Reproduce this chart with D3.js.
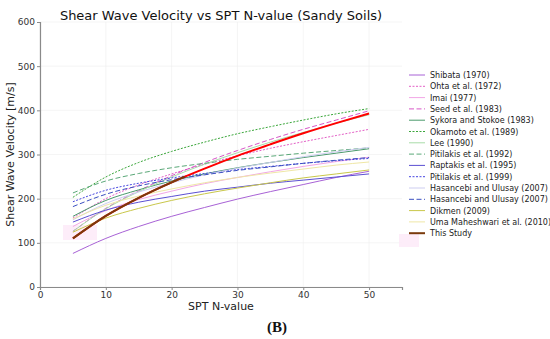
<!DOCTYPE html>
<html>
<head>
<meta charset="utf-8">
<script src="https://d3js.org/d3.v7.min.js"></script>
<style>
  body { margin: 0; background: #fff; }
  text { font-family: "DejaVu Sans", sans-serif; }
</style>
</head>
<body>
<div id="chart"></div>
<script>
// SPT N sample points
var nValues = [5, 10, 15, 20, 25, 30, 35, 40, 45, 50];

var shibata   = [76, 110, 137, 160, 180, 199, 216, 232, 248, 262];
var ohta      = [156, 200, 231, 256, 278, 297, 314, 329, 343, 357];
var imai      = [137, 173, 198, 217, 234, 248, 261, 273, 284, 294];
var seed      = [126, 178, 218, 252, 282, 309, 334, 357, 378, 399];
var sykora    = [160, 196, 220, 240, 256, 270, 282, 293, 303, 313];
var okamoto   = [203, 249, 282, 307, 328, 347, 363, 378, 392, 404];
var lee       = [126, 177, 216, 249, 278, 304, 328, 350, 371, 390];
var pitil92   = [213, 240, 257, 270, 280, 289, 296, 303, 309, 315];
var raptakis  = [147, 174, 192, 205, 217, 226, 235, 242, 249, 256];
var pitil99   = [193, 219, 235, 247, 257, 266, 273, 280, 286, 291];
var hasan1    = [152, 189, 215, 236, 254, 269, 282, 295, 306, 316];
var hasan2    = [182, 210, 229, 243, 254, 264, 272, 280, 287, 293];
var dikmen    = [124, 156, 178, 196, 211, 224, 236, 247, 256, 265];
var uma       = [154, 185, 206, 222, 236, 248, 258, 267, 276, 283];
var studyRed  = [110, 161, 202, 237, 268, 297, 323, 348, 371, 393];

// brown part of this study
var studyN = [5, 10, 15, 20, 22];
var studyV = [110, 161, 202, 237, 250];

var xTicks = [0, 10, 20, 30, 40, 50];
var yTicks = [0, 100, 200, 300, 400, 500, 600];

var series = [
  {name: "Shibata (1970)", v: shibata, color: "#a862d6", dash: null},
  {name: "Ohta et al. (1972)", v: ohta, color: "#e35fc6", dash: "2,1.5"},
  {name: "Imai (1977)", v: imai, color: "#f2a6e6", dash: null},
  {name: "Seed et al. (1983)", v: seed, color: "#d757c8", dash: "5,2.5"},
  {name: "Sykora and Stokoe (1983)", v: sykora, color: "#4a9a6c", dash: null},
  {name: "Okamoto et al. (1989)", v: okamoto, color: "#3aa63a", dash: "2,1.5"},
  {name: "Lee (1990)", v: lee, color: "#a9dca9", dash: null},
  {name: "Pitilakis et al. (1992)", v: pitil92, color: "#5aa878", dash: "5,2.5"},
  {name: "Raptakis et al. (1995)", v: raptakis, color: "#5b4fd2", dash: null},
  {name: "Pitilakis et al. (1999)", v: pitil99, color: "#4646e0", dash: "2,1.5"},
  {name: "Hasancebi and Ulusay (2007)", v: hasan1, color: "#cdcdf0", dash: null},
  {name: "Hasancebi and Ulusay (2007)", v: hasan2, color: "#3b4fc0", dash: "5,2.5"},
  {name: "Dikmen (2009)", v: dikmen, color: "#c9c74a", dash: null},
  {name: "Uma Maheshwari et al. (2010)", v: uma, color: "#efe7a6", dash: null}
];

var width = 550, height = 339;
var margin = {left: 40, right: 148, top: 22, bottom: 52};

var svg = d3.select("#chart").append("svg")
  .attr("width", width)
  .attr("height", height);

var x = d3.scaleLinear().domain([0, 55]).range([margin.left, width - margin.right]);
var y = d3.scaleLinear().domain([0, 600]).range([height - margin.bottom, margin.top]);

// grid
var grid = svg.append("g");
grid.selectAll(".gx").data(xTicks).enter().append("line")
  .attr("x1", d => x(d)).attr("x2", d => x(d))
  .attr("y1", y(0)).attr("y2", y(600))
  .attr("stroke", "#eeeeee").attr("stroke-width", 0.6);
grid.selectAll(".gy").data(yTicks).enter().append("line")
  .attr("x1", x(0)).attr("x2", x(55))
  .attr("y1", d => y(d)).attr("y2", d => y(d))
  .attr("stroke", "#eeeeee").attr("stroke-width", 0.6);

// faint pink patches
svg.append("rect").attr("x", 63).attr("y", 225).attr("width", 34).attr("height", 15)
  .attr("fill", "#fce8f8").attr("opacity", 0.8);
svg.append("rect").attr("x", 399).attr("y", 234).attr("width", 20).attr("height", 13)
  .attr("fill", "#fce8f8").attr("opacity", 0.8);

var line = d3.line()
  .x((d, i) => x(nValues[i]))
  .y(d => y(d))
  .curve(d3.curveMonotoneX);

var lines = svg.append("g");
series.forEach(function (s) {
  lines.append("path")
    .attr("d", line(s.v))
    .attr("fill", "none")
    .attr("stroke", s.color)
    .attr("stroke-width", 1)
    .attr("stroke-dasharray", s.dash);
});

lines.append("path")
  .attr("d", line(studyRed))
  .attr("fill", "none")
  .attr("stroke", "#ff0000")
  .attr("stroke-width", 2);

var line2 = d3.line()
  .x((d, i) => x(studyN[i]))
  .y(d => y(d))
  .curve(d3.curveMonotoneX);
lines.append("path")
  .attr("d", line2(studyV))
  .attr("fill", "none")
  .attr("stroke", "#7a3a0c")
  .attr("stroke-width", 2);

// axes
var xAxis = svg.append("g")
  .attr("transform", "translate(0," + y(0) + ")")
  .call(d3.axisBottom(x).tickValues(xTicks).tickSize(3).tickPadding(2));
var yAxis = svg.append("g")
  .attr("transform", "translate(" + x(0) + ",0)")
  .call(d3.axisLeft(y).tickValues(yTicks).tickSize(3).tickPadding(2));
[xAxis, yAxis].forEach(function (a) {
  a.select(".domain").attr("stroke", "#8a8a8a").attr("stroke-width", 1.2);
  a.selectAll(".tick line").attr("stroke", "#8a8a8a");
  a.selectAll(".tick text").attr("fill", "#333").style("font-size", "9px")
    .style("font-family", "DejaVu Sans, sans-serif");
});

// title and labels
svg.append("text")
  .attr("x", 221).attr("y", 20)
  .attr("text-anchor", "middle")
  .style("font-size", "13px")
  .attr("fill", "#111")
  .text("Shear Wave Velocity vs SPT N-value (Sandy Soils)");

svg.append("text")
  .attr("x", 221).attr("y", 310)
  .attr("text-anchor", "middle")
  .style("font-size", "11px")
  .attr("fill", "#222")
  .text("SPT N-value");

svg.append("text")
  .attr("transform", "translate(14," + y(300) + ") rotate(-90)")
  .attr("text-anchor", "middle")
  .style("font-size", "11px")
  .attr("fill", "#222")
  .text("Shear Wave Velocity [m/s]");

svg.append("text")
  .attr("x", 277).attr("y", 332)
  .attr("text-anchor", "middle")
  .style("font-family", "Liberation Serif, serif")
  .style("font-size", "15px")
  .style("font-weight", "bold")
  .attr("fill", "#111")
  .text("(B)");

// legend
var legendItems = series.map(s => ({name: s.name, color: s.color, dash: s.dash, w: 1}));
legendItems.push({name: "This Study", color: "#7a3a0c", dash: null, w: 2});

var legend = svg.append("g");
legendItems.forEach(function (d, i) {
  var ly = 75 + i * 11.3;
  legend.append("line")
    .attr("x1", 409).attr("x2", 425)
    .attr("y1", ly).attr("y2", ly)
    .attr("stroke", d.color)
    .attr("stroke-width", d.w)
    .attr("stroke-dasharray", d.dash);
  legend.append("text")
    .attr("x", 430).attr("y", ly + 3)
    .style("font-size", "8px")
    .attr("fill", "#222")
    .text(d.name);
});
</script>
</body>
</html>
